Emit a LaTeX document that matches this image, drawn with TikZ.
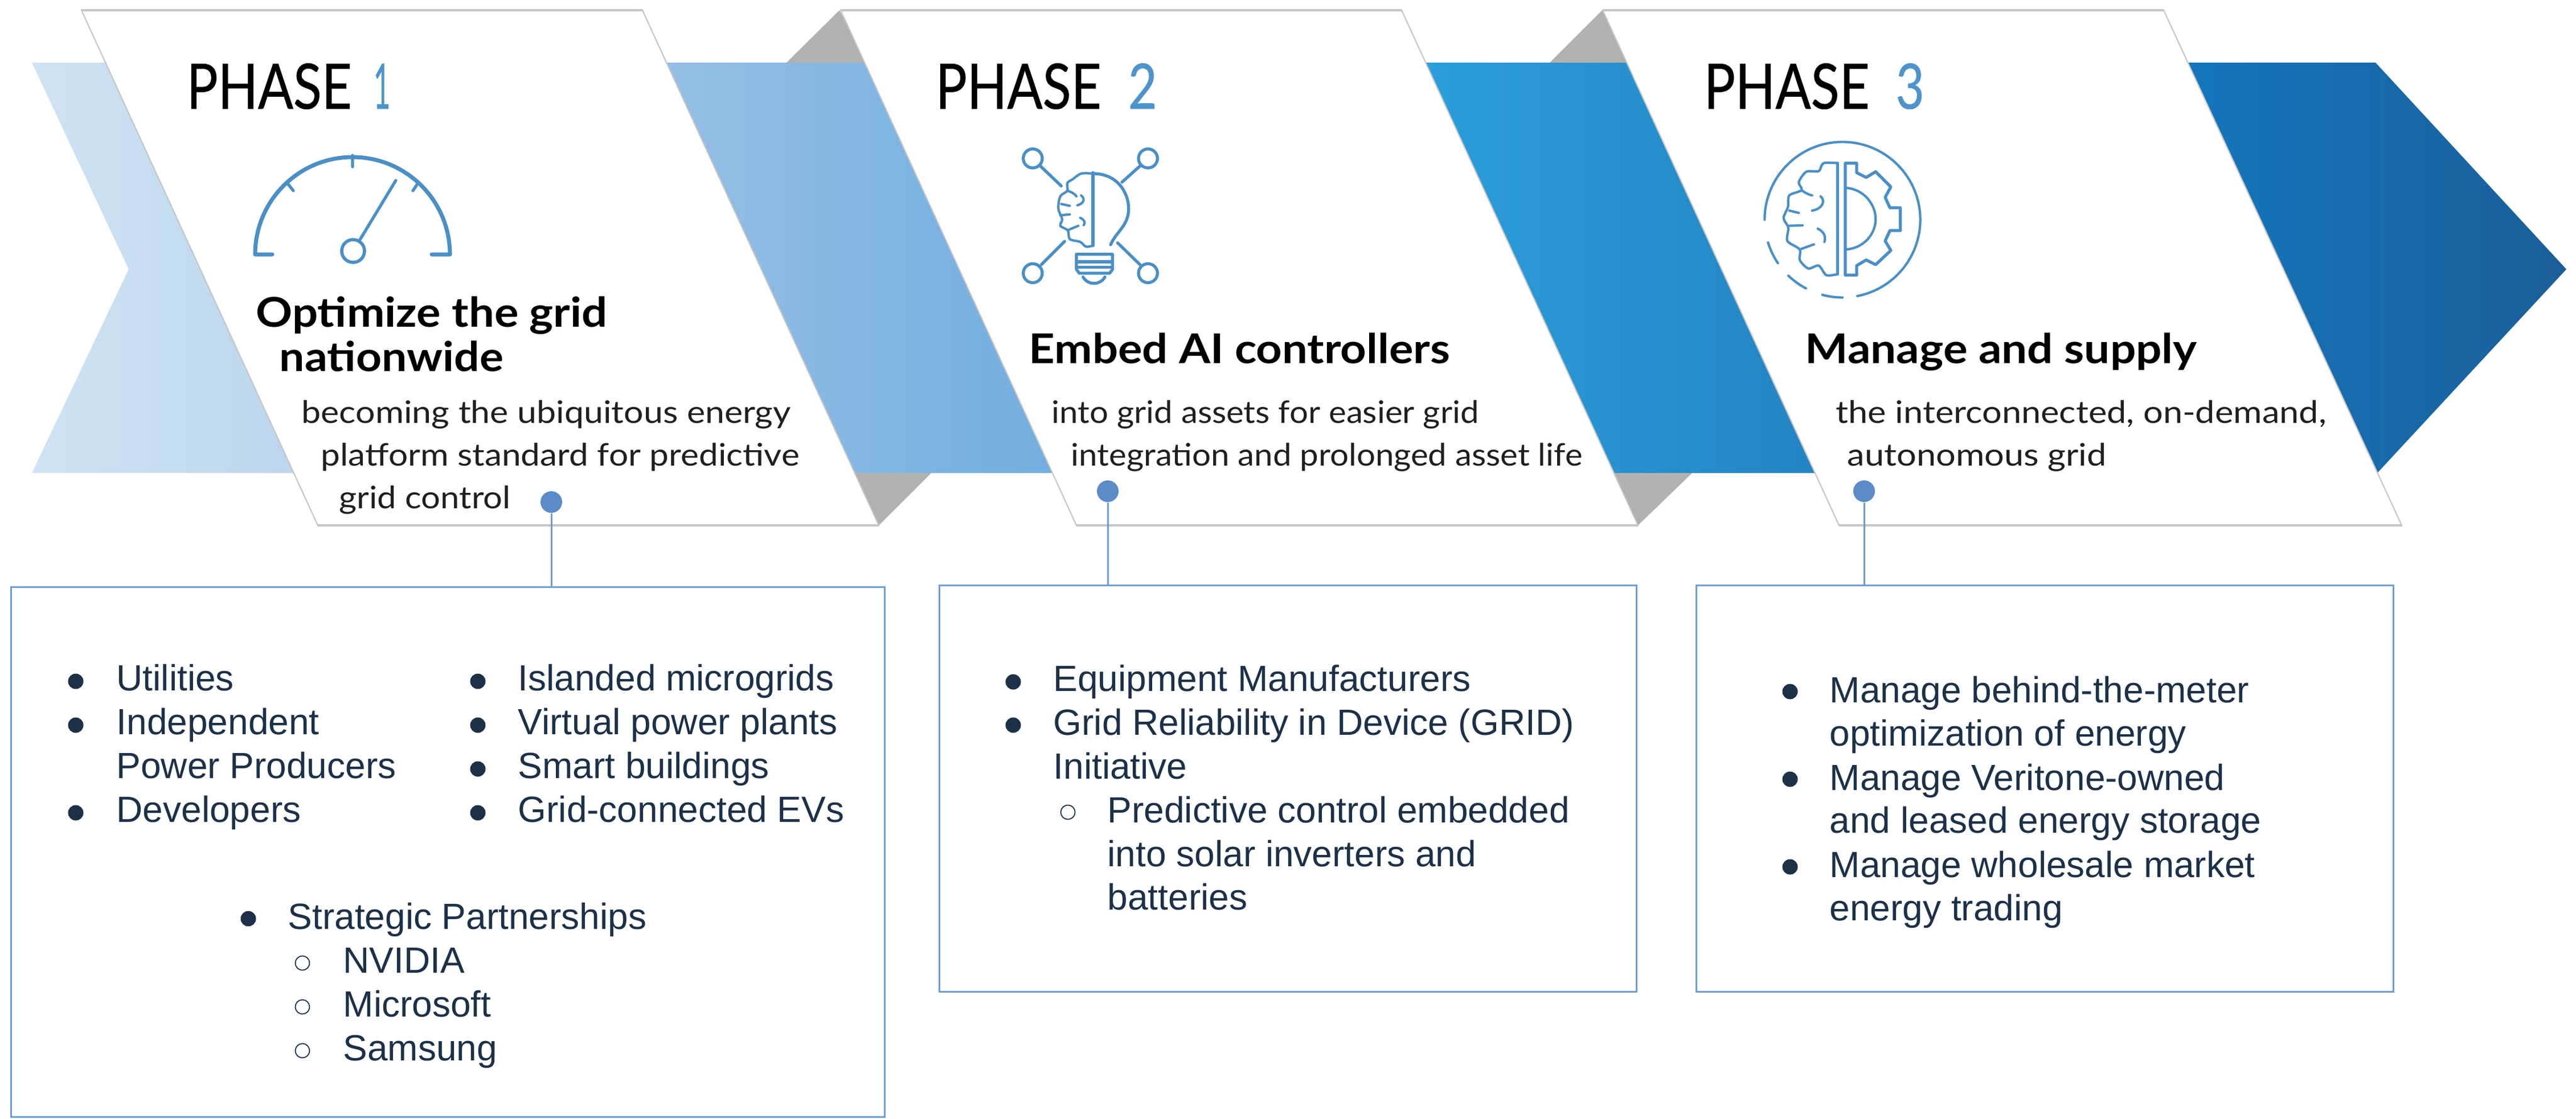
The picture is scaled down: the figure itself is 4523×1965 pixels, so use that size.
\documentclass[tikz,border=0pt]{standalone}
\usepackage{fontspec}
\usepackage{graphicx}
\usetikzlibrary{calc}
\setmainfont{Liberation Sans}
\newfontfamily\panelfont{Lato}
\newfontfamily\phasefont[FakeBold=0.6]{Lato}
\newlength\pxu \setlength\pxu{.01cm}
\definecolor{ink}{HTML}{1C3048}
\definecolor{iconblue}{HTML}{4A8FC6}
\definecolor{digitblue}{HTML}{4E94CC}
\definecolor{boxblue}{HTML}{6D9DD6}
\definecolor{dotblue}{HTML}{5B8CC8}
\definecolor{shadowgray}{HTML}{B1B1B1}
\definecolor{edgegray}{HTML}{C6C6C6}
\definecolor{bandAa}{HTML}{D0E3F4}
\definecolor{bandAb}{HTML}{B7D4ED}
\definecolor{bandBa}{HTML}{95BFE4}
\definecolor{bandBb}{HTML}{72AEE0}
\definecolor{bandCa}{HTML}{2B9EDB}
\definecolor{bandCb}{HTML}{2484C3}
\definecolor{bandDa}{HTML}{1476BC}
\definecolor{bandDb}{HTML}{1B5E98}
\tikzset{
  listtext/.style={anchor=base west,inner sep=0pt,text=ink,font=\fontsize{18.2}{22}\selectfont},
  solidbullet/.style={circle,fill=ink,inner sep=0pt,minimum size=.27cm},
  openbullet/.style={circle,draw=ink,line width=.5pt,fill=white,inner sep=0pt,minimum size=.25cm},
  listbox/.style={rectangle,draw=boxblue,line width=.85pt,fill=white,inner sep=0pt,outer sep=0pt},
  tag/.style={circle,fill=dotblue,inner sep=0pt,minimum size=.38cm},
  tagline/.style={draw=boxblue,line width=.85pt},
  panelfill/.style={fill=white,draw=edgegray,line width=.6pt},
  paneledge/.style={draw=edgegray,line width=1.4pt},
  icon/.style={draw=iconblue,line width=1.5pt,line cap=round,line join=round},
  thinicon/.style={draw=iconblue,line width=1.2pt,line cap=round,line join=round},
  panelline/.style={anchor=base west,inner sep=0pt},
}
\newcommand\phaseword{\fontsize{31.3}{36}\selectfont\phasefont PHASE}
\newcommand\phasedigit[1]{\fontsize{31.3}{36}\selectfont\phasefont\textcolor{digitblue}{#1}}
\newcommand\headtext[1]{\fontsize{20.5}{24}\selectfont\panelfont\bfseries\textcolor{black}{#1}}
\newcommand\desctext[1]{\fontsize{15.5}{18}\selectfont\panelfont\textcolor{black!88}{#1}}
\begin{document}
\begin{tikzpicture}[x=.01cm,y=-.01cm]
\useasboundingbox (0,0) rectangle (4523,1965);
\fill[white] (0,0) rectangle (4523,1965);
% band
\shade[left color=bandAa,right color=bandAb] (56,110) -- (226,473) -- (56,831) -- (600,831) -- (300,110) -- cycle;
\shade[left color=bandBa,right color=bandBb] (1170,110) -- (1518,110) -- (1848,831) -- (1501,831) -- cycle;
\shade[left color=bandCa,right color=bandCb] (2503,110) -- (2856,110) -- (3187,831) -- (2834,831) -- cycle;
\shade[left color=bandDa,right color=bandDb] (3842,110) -- (4171,110) -- (4506,473) -- (4174,831) -- cycle;
% folds
\fill[shadowgray] (1474,18) -- (1381,110) -- (1520,110) -- cycle;
\fill[shadowgray] (1543,923) -- (1635,831) -- (1500,831) -- cycle;
\fill[shadowgray] (2813,18) -- (2721,110) -- (2860,110) -- cycle;
\fill[shadowgray] (2876,923) -- (2971,831) -- (2834,831) -- cycle;
% panels
\path[panelfill] (143,18) -- (1128,18) -- (1543,923) -- (558,923) -- cycle;
\path[panelfill] (1476,18) -- (2461,18) -- (2876,923) -- (1890,923) -- cycle;
\path[panelfill] (2814,18) -- (3799,18) -- (4217,923) -- (3229,923) -- cycle;
\path[paneledge] (143,18) -- (1128,18) (558,923) -- (1543,923);
\path[paneledge] (1476,18) -- (2461,18) (1890,923) -- (2876,923);
\path[paneledge] (2814,18) -- (3799,18) (3229,923) -- (4217,923);
% panel 1 text
\node[panelline] (p1) at (327,191) {\resizebox{290\pxu}{\height}{\phaseword}};
\node[panelline] (d1) at (655,191) {\resizebox{30\pxu}{\height}{\phasedigit{1}}};
\node[panelline] (h1a) at (449,574) {\resizebox{617\pxu}{\height}{\headtext{Optimize the grid}}};
\node[panelline] (h1b) at (490,652) {\resizebox{393\pxu}{\height}{\headtext{nationwide}}};
\node[panelline] (s1a) at (529,743) {\resizebox{859\pxu}{\height}{\desctext{becoming the ubiquitous energy}}};
\node[panelline] (s1b) at (563,818) {\resizebox{840\pxu}{\height}{\desctext{platform standard for predictive}}};
\node[panelline] (s1c) at (595,893) {\resizebox{301\pxu}{\height}{\desctext{grid control}}};
% panel 2 text
\node[panelline] (p2) at (1642,191) {\resizebox{291\pxu}{\height}{\phaseword}};
\node[panelline] (d2) at (1980,191) {\resizebox{51\pxu}{\height}{\phasedigit{2}}};
\node[panelline] (h2) at (1806,638) {\resizebox{739\pxu}{\height}{\headtext{Embed AI controllers}}};
\node[panelline] (s2a) at (1846,743) {\resizebox{750\pxu}{\height}{\desctext{into grid assets for easier grid}}};
\node[panelline] (s2b) at (1880,818) {\resizebox{898\pxu}{\height}{\desctext{integration and prolonged asset life}}};
% panel 3 text
\node[panelline] (p3) at (2991,191) {\resizebox{291\pxu}{\height}{\phaseword}};
\node[panelline] (d3) at (3328,191) {\resizebox{50\pxu}{\height}{\phasedigit{3}}};
\node[panelline] (h3) at (3169,638) {\resizebox{688\pxu}{\height}{\headtext{Manage and supply}}};
\node[panelline] (s3a) at (3223,743) {\resizebox{861\pxu}{\height}{\desctext{the interconnected, on-demand,}}};
\node[panelline] (s3b) at (3243,818) {\resizebox{455\pxu}{\height}{\desctext{autonomous grid}}};
% gauge icon
\draw[icon,line width=2pt] (478,447) -- (448,447) arc[start angle=180,end angle=360,radius=171] -- (758,447);
\draw[icon] (619,273) -- (619,293) (503,320) -- (515,335) (735,320) -- (725,335);
\node[circle,draw=iconblue,line width=1.6pt,inner sep=0pt,minimum size=.40cm] (gaugehub) at (620,441) {};
\coordinate (needletip) at (695,317);
\draw[icon] (needletip) -- (gaugehub);
% bulb icon
\begin{scope}[shift={(1750,230)},scale=.3333]
\draw[icon] (190,145) circle[radius=50] (797,145) circle[radius=50] (190,750) circle[radius=50] (797,750) circle[radius=50];
\draw[icon] (230,185) -- (340,290) (755,185) -- (660,270) (235,705) -- (358,582) (755,705) -- (637,590);
\draw[icon] (507,220) -- (507,605);
\draw[icon] (507,225) .. controls (640,225) and (695,330) .. (695,410) .. controls (695,500) and (630,530) .. (600,600);
\draw[thinicon] plot[smooth,tension=.55] coordinates {(507,225) (445,225) (400,255) (372,275) (372,315) (335,345) (325,410) (345,465) (335,500) (375,525) (385,570) (440,585) (470,610) (505,605)};
\draw[thinicon] (372,315) .. controls (390,320) and (410,330) .. (420,345);
\draw[thinicon] (445,340) .. controls (470,360) and (455,385) .. (425,392);
\draw[thinicon] (340,385) -- (385,395) (335,445) -- (385,440);
\draw[thinicon] (440,458) .. controls (465,470) and (468,485) .. (458,497);
\draw[thinicon] (378,522) -- (430,500);
\draw[icon] (420,650) -- (610,650) -- (610,730) -- (595,750) -- (435,750) -- (420,730) -- cycle;
\draw[icon] (420,690) -- (610,690) (420,718) -- (610,718);
\draw[icon] (455,770) .. controls (480,815) and (545,815) .. (570,770);
\end{scope}
% gear icon
\begin{scope}[shift={(3060,260)},scale=.3333]
\draw[thinicon] (115,378) arc[start angle=180,end angle=439,radius=410];
\draw[thinicon] ($(525,378)+(105:410)$) arc[start angle=105,end angle=90,radius=410];
\draw[thinicon] ($(525,378)+(134:410)$) arc[start angle=134,end angle=118,radius=410];
\draw[thinicon] ($(525,378)+(163:410)$) arc[start angle=163,end angle=146,radius=410];
\draw[icon] (500,80) -- (500,665);
\draw[thinicon] plot[smooth,tension=.5] coordinates {(500,80) (425,80) (400,122) (335,125) (295,180) (310,222) (245,250) (238,310) (215,370) (240,420) (235,490) (300,535) (300,590) (345,635) (400,620) (440,670) (500,665)};
\draw[thinicon] (310,222) .. controls (325,235) and (345,245) .. (365,250);
\draw[thinicon] (410,255) .. controls (435,275) and (425,320) .. (365,330);
\draw[thinicon] (245,330) -- (295,342) (240,410) -- (315,408);
\draw[thinicon] (395,425) .. controls (425,440) and (440,465) .. (430,495);
\draw[thinicon] (300,535) -- (375,508);
\draw[icon] (540,80) -- (600,80) -- (600,130) -- (650,155) -- (700,125) -- (780,205) -- (750,260) -- (775,315) -- (830,315) -- (830,435) -- (775,435) -- (750,490) -- (780,540) -- (700,615) -- (650,590) -- (600,620) -- (600,670) -- (540,670) -- cycle;
\draw[thinicon] (540,210) .. controls (640,215) and (700,300) .. (700,375) .. controls (700,450) and (640,530) .. (540,535);
\end{scope}
% list boxes
\node[listbox,minimum width=15.33cm,minimum height=9.30cm] (box1) at (786.5,1497) {};
\node[listbox,minimum width=12.23cm,minimum height=7.13cm] (box2) at (2261.5,1385.5) {};
\node[listbox,minimum width=12.23cm,minimum height=7.13cm] (box3) at (3590.5,1385.5) {};
% tags
\node[tag] (tag1) at (968,882) {};
\node[tag] (tag2) at (1945,863) {};
\node[tag] (tag3) at (3273,863) {};
\draw[tagline] (tag1) -- (tag1 |- box1.north);
\draw[tagline] (tag2) -- (tag2 |- box2.north);
\draw[tagline] (tag3) -- (tag3 |- box3.north);
% list 1
\node[solidbullet] (b1a) at (133,1197) {};
\node[listtext] (l1a) at (204,1213) {Utilities};
\node[solidbullet] (b1b) at (133,1274) {};
\node[listtext] (l1b) at (204,1290) {Independent};
\node[listtext] (l1c) at (204,1367) {Power Producers};
\node[solidbullet] (b1d) at (133,1428) {};
\node[listtext] (l1d) at (204,1444) {Developers};
\node[solidbullet] (b1e) at (839,1197) {};
\node[listtext] (l1e) at (909,1213) {Islanded microgrids};
\node[solidbullet] (b1f) at (839,1274) {};
\node[listtext] (l1f) at (909,1290) {Virtual power plants};
\node[solidbullet] (b1g) at (839,1351) {};
\node[listtext] (l1g) at (909,1367) {Smart buildings};
\node[solidbullet] (b1h) at (839,1428) {};
\node[listtext] (l1h) at (909,1444) {Grid-connected EVs};
\node[solidbullet] (b1i) at (436,1614) {};
\node[listtext] (l1i) at (505,1632) {Strategic Partnerships};
\node[openbullet] (b1j) at (531,1692) {};
\node[listtext] (l1j) at (602,1709) {NVIDIA};
\node[openbullet] (b1k) at (531,1769) {};
\node[listtext] (l1k) at (602,1786) {Microsoft};
\node[openbullet] (b1l) at (531,1846) {};
\node[listtext] (l1l) at (602,1863) {Samsung};
% list 2
\node[solidbullet] (b2a) at (1779,1198) {};
\node[listtext] (l2a) at (1849,1214) {Equipment Manufacturers};
\node[solidbullet] (b2b) at (1779,1274) {};
\node[listtext] (l2b) at (1849,1291) {Grid Reliability in Device (GRID)};
\node[listtext] (l2c) at (1849,1368) {Initiative};
\node[openbullet] (b2d) at (1875,1427) {};
\node[listtext] (l2d) at (1944,1445) {Predictive control embedded};
\node[listtext] (l2e) at (1944,1522) {into solar inverters and};
\node[listtext] (l2f) at (1944,1598) {batteries};
% list 3
\node[solidbullet] (b3a) at (3143,1215) {};
\node[listtext] (l3a) at (3212,1234) {Manage behind-the-meter};
\node[listtext] (l3b) at (3212,1310) {optimization of energy};
\node[solidbullet] (b3c) at (3143,1369) {};
\node[listtext] (l3c) at (3212,1388) {Manage Veritone-owned};
\node[listtext] (l3d) at (3212,1463) {and leased energy storage};
\node[solidbullet] (b3e) at (3143,1523) {};
\node[listtext] (l3e) at (3212,1541) {Manage wholesale market};
\node[listtext] (l3f) at (3212,1617) {energy trading};
\end{tikzpicture}
\end{document}
